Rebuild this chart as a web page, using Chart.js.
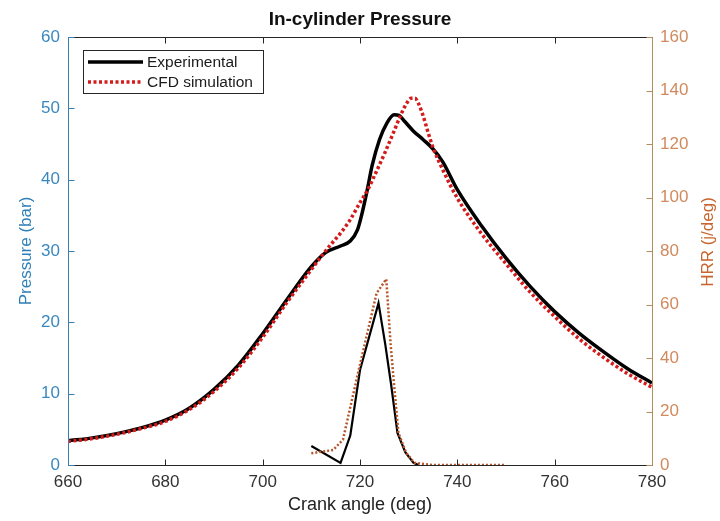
<!DOCTYPE html>
<html>
<head>
<meta charset="utf-8">
<script src="https://cdn.jsdelivr.net/npm/chart.js@4.4.0/dist/chart.umd.min.js"></script>
<style>
html,body{margin:0;padding:0;background:#fff}
</style>
</head>
<body>
<canvas id="pressureGraph" width="720" height="521"></canvas>
<script>
// crank angle (deg) / pressure (bar)
const expAngle = [660,665,670,675,680,685,690,695,700,705,710,713,716,718,719.5,720.5,721.5,722.5,724,725.5,727,728,729,731,733,735,737,740,745,750,755,760,765,770,775,780]
const expPressure = [3.4,3.8,4.4,5.2,6.3,8.0,10.6,14.0,18.4,23.2,27.8,29.8,30.7,31.4,33.0,35.5,38.6,42.0,45.6,47.9,49.1,49.0,48.3,46.8,45.6,44.3,42.5,38.6,33.5,29.0,25.0,21.5,18.5,15.9,13.5,11.5]
const cfdAngle = [660,665,670,675,680,685,690,695,700,705,710,712,714,716,718,720,721.6,723,725,727,728.2,729.5,730.5,731.3,732,733,734,735,737,740,745,750,755,760,765,770,775,780]
const cfdPressure = [3.3,3.7,4.3,5.1,6.1,7.8,10.3,13.6,17.9,22.8,27.4,29.2,30.9,32.5,34.4,36.8,38.6,40.6,43.6,46.8,48.8,50.6,51.4,51.4,50.7,48.9,46.6,44.5,41.4,37.4,32.4,28.2,24.2,20.8,17.7,15.1,12.8,10.9]
// heat release rate (J/deg)
const expHrrAngle = [710,716,718,720,723.8,725.2,726.4,727.7,729.3,731,732]
const expHrr = [7.1,0.8,11,35.5,60.5,45,30,12,4.8,0.8,0]
const cfdHrrAngle = [710,714.5,716.5,719.6,723.4,725.4,726.3,727.0,727.9,729.5,731.2,735,740,745,750]
const cfdHrr = [4.4,5.6,9.5,34.4,64.2,69.5,45,30,12,4.5,0.8,0,0,0,0]
const angleTicks = [660,680,700,720,740,760,780]

const toPoints = (xs, ys)=>xs.map((x, i)=>({x: x, y: ys[i]}))

const blueText = '#3a88bf'
const blueAxis = '#3b7fae'
const orangeText = '#d08a5e'
const orangeTitle = '#c8642d'
const orangeAxis = '#b38e5c'
const FONT = 'Arial, "Liberation Sans", Helvetica, sans-serif'

const line = (ctx, x1, y1, x2, y2)=>{
    ctx.beginPath()
    ctx.moveTo(x1, y1)
    ctx.lineTo(x2, y2)
    ctx.stroke()
}

const matlabFrame = {
    id: 'matlabFrame',
    afterDraw(chart){
        const {ctx, chartArea: a, scales} = chart
        const L = Math.round(a.left) + 0.5, R = Math.round(a.right) + 0.5
        const T = Math.round(a.top) + 0.5, B = Math.round(a.bottom) + 0.5
        ctx.save()
        ctx.lineWidth = 1
        ctx.setLineDash([])
        ctx.strokeStyle = '#262626'
        line(ctx, L, T, R, T)
        line(ctx, L, B, R, B)
        scales.x.ticks.forEach(t=>{
            const px = Math.round(scales.x.getPixelForValue(t.value)) + 0.5
            line(ctx, px, B, px, B - 6)
            line(ctx, px, T, px, T + 6)
        })
        ctx.strokeStyle = blueAxis
        line(ctx, L, T, L, B)
        scales.y.ticks.forEach(t=>{
            const py = Math.round(scales.y.getPixelForValue(t.value)) + 0.5
            line(ctx, L, py, L + 6, py)
        })
        ctx.strokeStyle = orangeAxis
        line(ctx, R, T, R, B)
        scales.y1.ticks.forEach(t=>{
            const py = Math.round(scales.y1.getPixelForValue(t.value)) + 0.5
            line(ctx, R, py, R - 6, py)
        })

        // right axis title, reading bottom to top like the left one
        ctx.fillStyle = orangeTitle
        ctx.font = '17px ' + FONT
        ctx.textAlign = 'center'
        ctx.textBaseline = 'middle'
        ctx.translate(708, 242)
        ctx.rotate(-Math.PI / 2)
        ctx.fillText('HRR (j/deg)', 0, 0)
        ctx.setTransform(1, 0, 0, 1, 0, 0)

        // legend box
        const box = {x: 83.5, y: 50.5, w: 180, h: 43}
        ctx.fillStyle = '#fff'
        ctx.fillRect(box.x, box.y, box.w, box.h)
        ctx.strokeStyle = '#262626'
        ctx.strokeRect(box.x, box.y, box.w, box.h)
        const entries = chart.data.datasets.filter(d=>d.inLegend)
        entries.forEach((d, i)=>{
            const y = 62 + i * 20
            ctx.strokeStyle = d.borderColor
            ctx.lineWidth = d.borderWidth
            ctx.setLineDash(d.borderDash || [])
            line(ctx, 88, y, 143, y)
            ctx.setLineDash([])
            ctx.fillStyle = '#1a1a1a'
            ctx.font = '15.5px ' + FONT
            ctx.textAlign = 'left'
            ctx.textBaseline = 'middle'
            ctx.fillText(d.label, 147, y + 1)
        })
        ctx.restore()
    }
}

const pressureGraph = document.querySelector('#pressureGraph')
const myChart = new Chart(pressureGraph, {
    type: 'line',
    data: {
        datasets: [{
            label: 'Experimental',
            inLegend: true,
            data: toPoints(expAngle, expPressure),
            borderColor: '#000000',
            borderWidth: 3.5,
            cubicInterpolationMode: 'monotone',
            yAxisID: 'y',
            order: 3
        }, {
            label: 'CFD simulation',
            inLegend: true,
            data: toPoints(cfdAngle, cfdPressure),
            borderColor: '#d41a1a',
            borderWidth: 3.5,
            borderDash: [3, 2.5],
            cubicInterpolationMode: 'monotone',
            yAxisID: 'y',
            order: 2
        }, {
            label: 'Experimental HRR',
            data: toPoints(expHrrAngle, expHrr),
            borderColor: '#000000',
            borderWidth: 2.2,
            tension: 0,
            yAxisID: 'y1',
            order: 1
        }, {
            label: 'CFD HRR',
            data: toPoints(cfdHrrAngle, cfdHrr),
            borderColor: '#b4552b',
            borderWidth: 2.5,
            borderDash: [2, 2],
            tension: 0,
            yAxisID: 'y1',
            order: 0
        }]
    },
    options: {
        responsive: false,
        animation: false,
        devicePixelRatio: 1,
        elements: {point: {radius: 0, hoverRadius: 0}},
        layout: {padding: 0},
        plugins: {
            legend: {display: false},
            tooltip: {enabled: false},
            title: {
                display: true,
                text: 'In-cylinder Pressure',
                color: '#111',
                font: {family: FONT, size: 19, weight: 'bold'},
                padding: {top: 8, bottom: 6.2}
            }
        },
        scales: {
            x: {
                type: 'linear',
                min: 660,
                max: 780,
                afterBuildTicks: s=>{ s.ticks = angleTicks.map(v=>({value: v})) },
                afterFit: s=>{ s.height = 56 },
                grid: {display: false, drawTicks: false},
                border: {display: false},
                ticks: {color: '#333', font: {family: FONT, size: 17}, padding: 7},
                title: {
                    display: true,
                    text: 'Crank angle (deg)',
                    color: '#222',
                    font: {family: FONT, size: 18},
                    padding: {top: 0, bottom: 5}
                }
            },
            y: {
                position: 'left',
                min: 0,
                max: 60,
                afterFit: s=>{ s.width = 68 },
                grid: {display: false, drawTicks: false},
                border: {display: false},
                ticks: {stepSize: 10, color: blueText, font: {family: FONT, size: 17}, padding: 8},
                title: {
                    display: true,
                    text: 'Pressure (bar)',
                    color: '#2f80b8',
                    font: {family: FONT, size: 17},
                    padding: {top: 16, bottom: 0}
                }
            },
            y1: {
                position: 'right',
                min: 0,
                max: 160,
                afterFit: s=>{ s.width = 68 },
                grid: {display: false, drawTicks: false},
                border: {display: false},
                ticks: {stepSize: 20, color: orangeText, font: {family: FONT, size: 17}, padding: 8}
            }
        }
    },
    plugins: [matlabFrame]
})
</script>
</body>
</html>
